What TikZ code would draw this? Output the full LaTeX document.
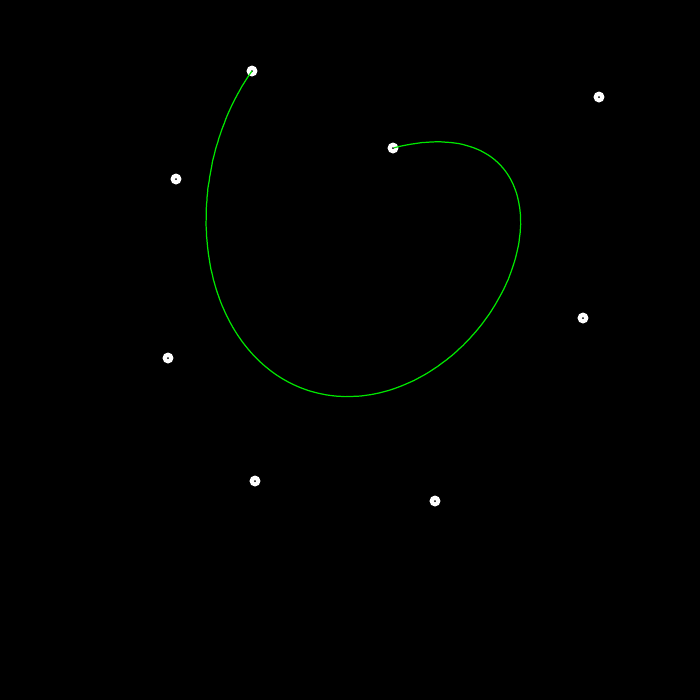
\documentclass[tikz,border=0pt]{standalone}
\usetikzlibrary{calc}
\begin{document}
\begin{tikzpicture}[x=1cm,y=-1cm,
  ctrl/.style={circle,fill=white,inner sep=0pt,minimum size=0.11cm},
  curve/.style={draw={rgb,255:red,0;green,230;blue,0},line width=0.35pt},
  declare function={
    bx(\t)=(1-\t)^7*2.52 + 7*\t*(1-\t)^6*1.76 + 21*\t^2*(1-\t)^5*1.68 + 35*\t^3*(1-\t)^4*2.55 + 35*\t^4*(1-\t)^3*4.35 + 21*\t^5*(1-\t)^2*5.83 + 7*\t^6*(1-\t)*5.99 + \t^7*3.93;
    by(\t)=(1-\t)^7*0.71 + 7*\t*(1-\t)^6*1.79 + 21*\t^2*(1-\t)^5*3.58 + 35*\t^3*(1-\t)^4*4.81 + 35*\t^4*(1-\t)^3*5.01 + 21*\t^5*(1-\t)^2*3.18 + 7*\t^6*(1-\t)*0.97 + \t^7*1.48;
  }]
\fill[black] (0,0) rectangle (7,7);
\useasboundingbox (0,0) rectangle (7,7);
\node[ctrl] (p0) at (2.52,0.71) {};
\node[ctrl] (p1) at (1.76,1.79) {};
\node[ctrl] (p2) at (1.68,3.58) {};
\node[ctrl] (p3) at (2.55,4.81) {};
\node[ctrl] (p4) at (4.35,5.01) {};
\node[ctrl] (p5) at (5.83,3.18) {};
\node[ctrl] (p6) at (5.99,0.97) {};
\node[ctrl] (p7) at (3.93,1.48) {};
\foreach \p in {p0,p1,p2,p3,p4,p5,p6,p7}
  \fill[black] (\p.center) circle (0.01);
\draw[curve] plot[domain=0:1,samples=240,variable=\t] ({bx(\t)},{by(\t)});
\end{tikzpicture}
\end{document}
